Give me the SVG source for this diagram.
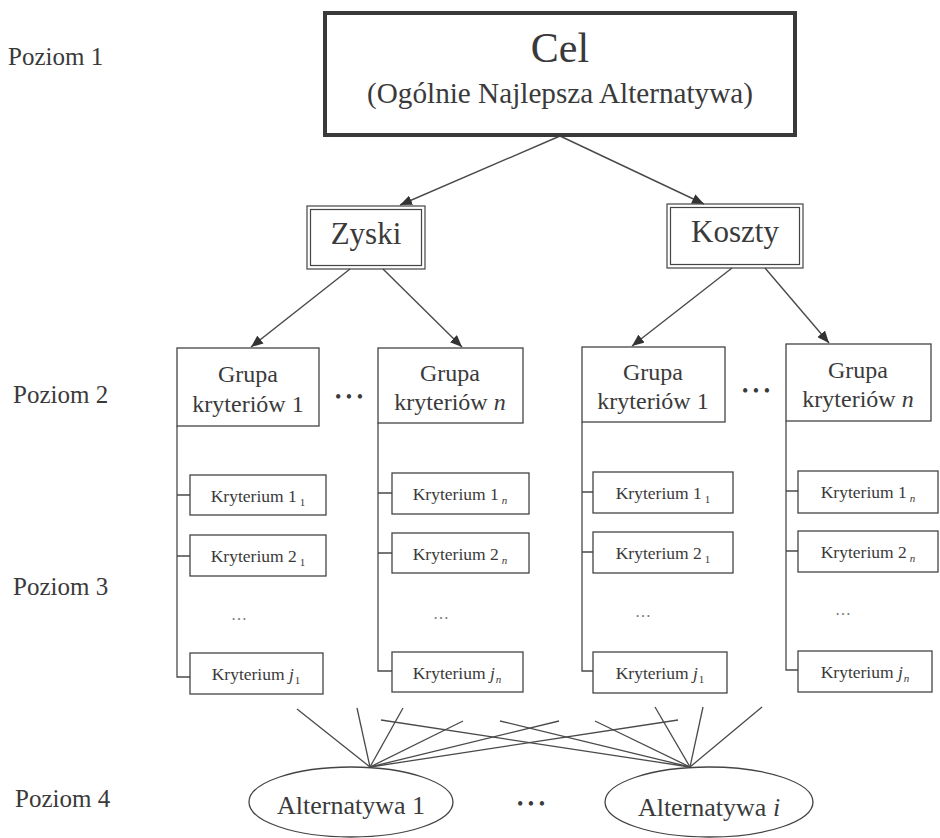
<svg xmlns="http://www.w3.org/2000/svg" width="940" height="838" viewBox="0 0 940 838">
<style>
text{font-family:"Liberation Serif","Times New Roman",serif;fill:#3a3a3a}
.box{fill:#fff;stroke:#444;stroke-width:1.3}
.cel{fill:#fff;stroke:#3a3a3a;stroke-width:4}
.dbl{fill:none;stroke:#444;stroke-width:1.2}
.ln{fill:none;stroke:#4a4a4a;stroke-width:1.3}
.arr{fill:none;stroke:#4a4a4a;stroke-width:1.4;marker-end:url(#ah)}
.lvl{font-size:25px}
.grp{font-size:24px;text-anchor:middle}
.kr{font-size:17.5px;text-anchor:middle}
.sub{font-size:11px}
.alt{font-size:26px;text-anchor:middle}
.dots{font-size:18px;text-anchor:middle}
.sdots{font-size:16px;text-anchor:middle;fill:#777}
</style>
<defs>
<marker id="ah" viewBox="0 0 12 10" refX="12" refY="5" markerWidth="12" markerHeight="10" markerUnits="userSpaceOnUse" orient="auto">
<path d="M0,0 L12,5 L0,10 z" fill="#333"/>
</marker>
</defs>
<rect width="940" height="838" fill="#fff"/>

<g id="levels">
<text class="lvl" x="8" y="65">Poziom 1</text>
<text class="lvl" x="13" y="403">Poziom 2</text>
<text class="lvl" x="13" y="595">Poziom 3</text>
<text class="lvl" x="15" y="807">Poziom 4</text>
</g>

<g id="connectors">
<line class="arr" x1="560" y1="136" x2="400" y2="205"/>
<line class="arr" x1="560" y1="136" x2="704" y2="204"/>
<line class="arr" x1="350" y1="269" x2="251" y2="347"/>
<line class="arr" x1="383" y1="269" x2="462" y2="347"/>
<line class="arr" x1="732" y1="268" x2="632" y2="346"/>
<line class="arr" x1="765" y1="268" x2="829" y2="343"/>
<path class="ln" d="M177,426 V677 H190 M177,495 H190 M177,556 H190"/>
<path class="ln" d="M378,423 V671 H392 M378,493 H392 M378,553 H392"/>
<path class="ln" d="M582,422 V671 H593 M582,492 H593 M582,552 H593"/>
<path class="ln" d="M786,421 V670 H798 M786,491 H798 M786,551 H798"/>
<line class="ln" x1="370" y1="767" x2="297" y2="709"/>
<line class="ln" x1="370" y1="767" x2="357" y2="708"/>
<line class="ln" x1="370" y1="767" x2="403" y2="708"/>
<line class="ln" x1="370" y1="767" x2="463" y2="721"/>
<line class="ln" x1="370" y1="767" x2="559" y2="721"/>
<line class="ln" x1="370" y1="767" x2="678" y2="720"/>
<line class="ln" x1="690" y1="767" x2="381" y2="720"/>
<line class="ln" x1="690" y1="767" x2="500" y2="721"/>
<line class="ln" x1="690" y1="767" x2="595" y2="721"/>
<line class="ln" x1="690" y1="767" x2="655" y2="707"/>
<line class="ln" x1="690" y1="767" x2="703" y2="707"/>
<line class="ln" x1="690" y1="767" x2="762" y2="707"/>
</g>

<g id="cel">
<rect class="cel" x="325" y="13" width="470" height="122"/>
<text x="560" y="62" font-size="42" text-anchor="middle">Cel</text>
<text x="560" y="103" font-size="28.5" text-anchor="middle" textLength="386" lengthAdjust="spacingAndGlyphs">(Ogólnie Najlepsza Alternatywa)</text>
</g>

<g id="zyski">
<rect class="dbl" x="307" y="206" width="118" height="63"/>
<rect class="dbl" x="310.5" y="209.5" width="111" height="56"/>
<text x="366" y="244" font-size="31" text-anchor="middle">Zyski</text>
</g>

<g id="koszty">
<rect class="dbl" x="667" y="204" width="136" height="64"/>
<rect class="dbl" x="670.5" y="207.5" width="129" height="57"/>
<text x="735" y="242" font-size="31" text-anchor="middle">Koszty</text>
</g>

<g id="grupa1z">
<rect class="box" x="177" y="348" width="142" height="78"/>
<text class="grp" x="248" y="382">Grupa</text>
<text class="grp" x="248" y="412">kryteriów 1</text>
</g>
<g id="grupanz">
<rect class="box" x="378" y="348" width="145" height="75"/>
<text class="grp" x="450" y="381">Grupa</text>
<text class="grp" x="450" y="410">kryteriów <tspan font-style="italic">n</tspan></text>
</g>
<g id="grupa1k">
<rect class="box" x="582" y="347" width="143" height="75"/>
<text class="grp" x="653" y="380">Grupa</text>
<text class="grp" x="653" y="409">kryteriów 1</text>
</g>
<g id="grupank">
<rect class="box" x="786" y="344" width="145" height="77"/>
<text class="grp" x="858" y="378">Grupa</text>
<text class="grp" x="858" y="407">kryteriów <tspan font-style="italic">n</tspan></text>
</g>

<g id="dots-groups">
<text class="dots" x="349" y="403">• • •</text>
<text class="dots" x="756" y="397">• • •</text>
</g>

<g id="kr-col1">
<rect class="box" x="190" y="475" width="136" height="40"/>
<text class="kr" x="258" y="502">Kryterium 1<tspan class="sub" dx="3" dy="4">1</tspan></text>
<rect class="box" x="190" y="535" width="136" height="41"/>
<text class="kr" x="258" y="562">Kryterium 2<tspan class="sub" dx="3" dy="4">1</tspan></text>
<text class="sdots" x="239" y="620">…</text>
<rect class="box" x="190" y="653" width="133" height="41"/>
<text class="kr" x="256" y="680">Kryterium <tspan font-style="italic">j</tspan><tspan class="sub" dx="1" dy="4">1</tspan></text>
</g>

<g id="kr-col2">
<rect class="box" x="392" y="473" width="137" height="41"/>
<text class="kr" x="460" y="500">Kryterium 1<tspan class="sub" font-style="italic" dx="3" dy="4">n</tspan></text>
<rect class="box" x="392" y="533" width="137" height="40"/>
<text class="kr" x="460" y="560">Kryterium 2<tspan class="sub" font-style="italic" dx="3" dy="4">n</tspan></text>
<text class="sdots" x="441" y="619">…</text>
<rect class="box" x="392" y="652" width="131" height="40"/>
<text class="kr" x="457" y="679">Kryterium <tspan font-style="italic">j</tspan><tspan class="sub" font-style="italic" dx="1" dy="4">n</tspan></text>
</g>

<g id="kr-col3">
<rect class="box" x="593" y="472" width="140" height="41"/>
<text class="kr" x="663" y="499">Kryterium 1<tspan class="sub" dx="3" dy="4">1</tspan></text>
<rect class="box" x="593" y="532" width="140" height="41"/>
<text class="kr" x="663" y="559">Kryterium 2<tspan class="sub" dx="3" dy="4">1</tspan></text>
<text class="sdots" x="643" y="617">…</text>
<rect class="box" x="593" y="652" width="134" height="41"/>
<text class="kr" x="660" y="679">Kryterium <tspan font-style="italic">j</tspan><tspan class="sub" dx="1" dy="4">1</tspan></text>
</g>

<g id="kr-col4">
<rect class="box" x="798" y="471" width="140" height="42"/>
<text class="kr" x="868" y="498">Kryterium 1<tspan class="sub" font-style="italic" dx="3" dy="4">n</tspan></text>
<rect class="box" x="798" y="531" width="140" height="41"/>
<text class="kr" x="868" y="558">Kryterium 2<tspan class="sub" font-style="italic" dx="3" dy="4">n</tspan></text>
<text class="sdots" x="843" y="615">…</text>
<rect class="box" x="798" y="651" width="134" height="41"/>
<text class="kr" x="865" y="678">Kryterium <tspan font-style="italic">j</tspan><tspan class="sub" font-style="italic" dx="1" dy="4">n</tspan></text>
</g>

<g id="alt1">
<ellipse class="box" cx="351" cy="802" rx="102" ry="35"/>
<text class="alt" x="351" y="814">Alternatywa 1</text>
</g>
<text class="dots" x="531" y="810">• • •</text>
<g id="alti">
<ellipse class="box" cx="709" cy="802" rx="104" ry="35"/>
<text class="alt" x="709" y="816">Alternatywa <tspan font-style="italic">i</tspan></text>
</g>
</svg>
